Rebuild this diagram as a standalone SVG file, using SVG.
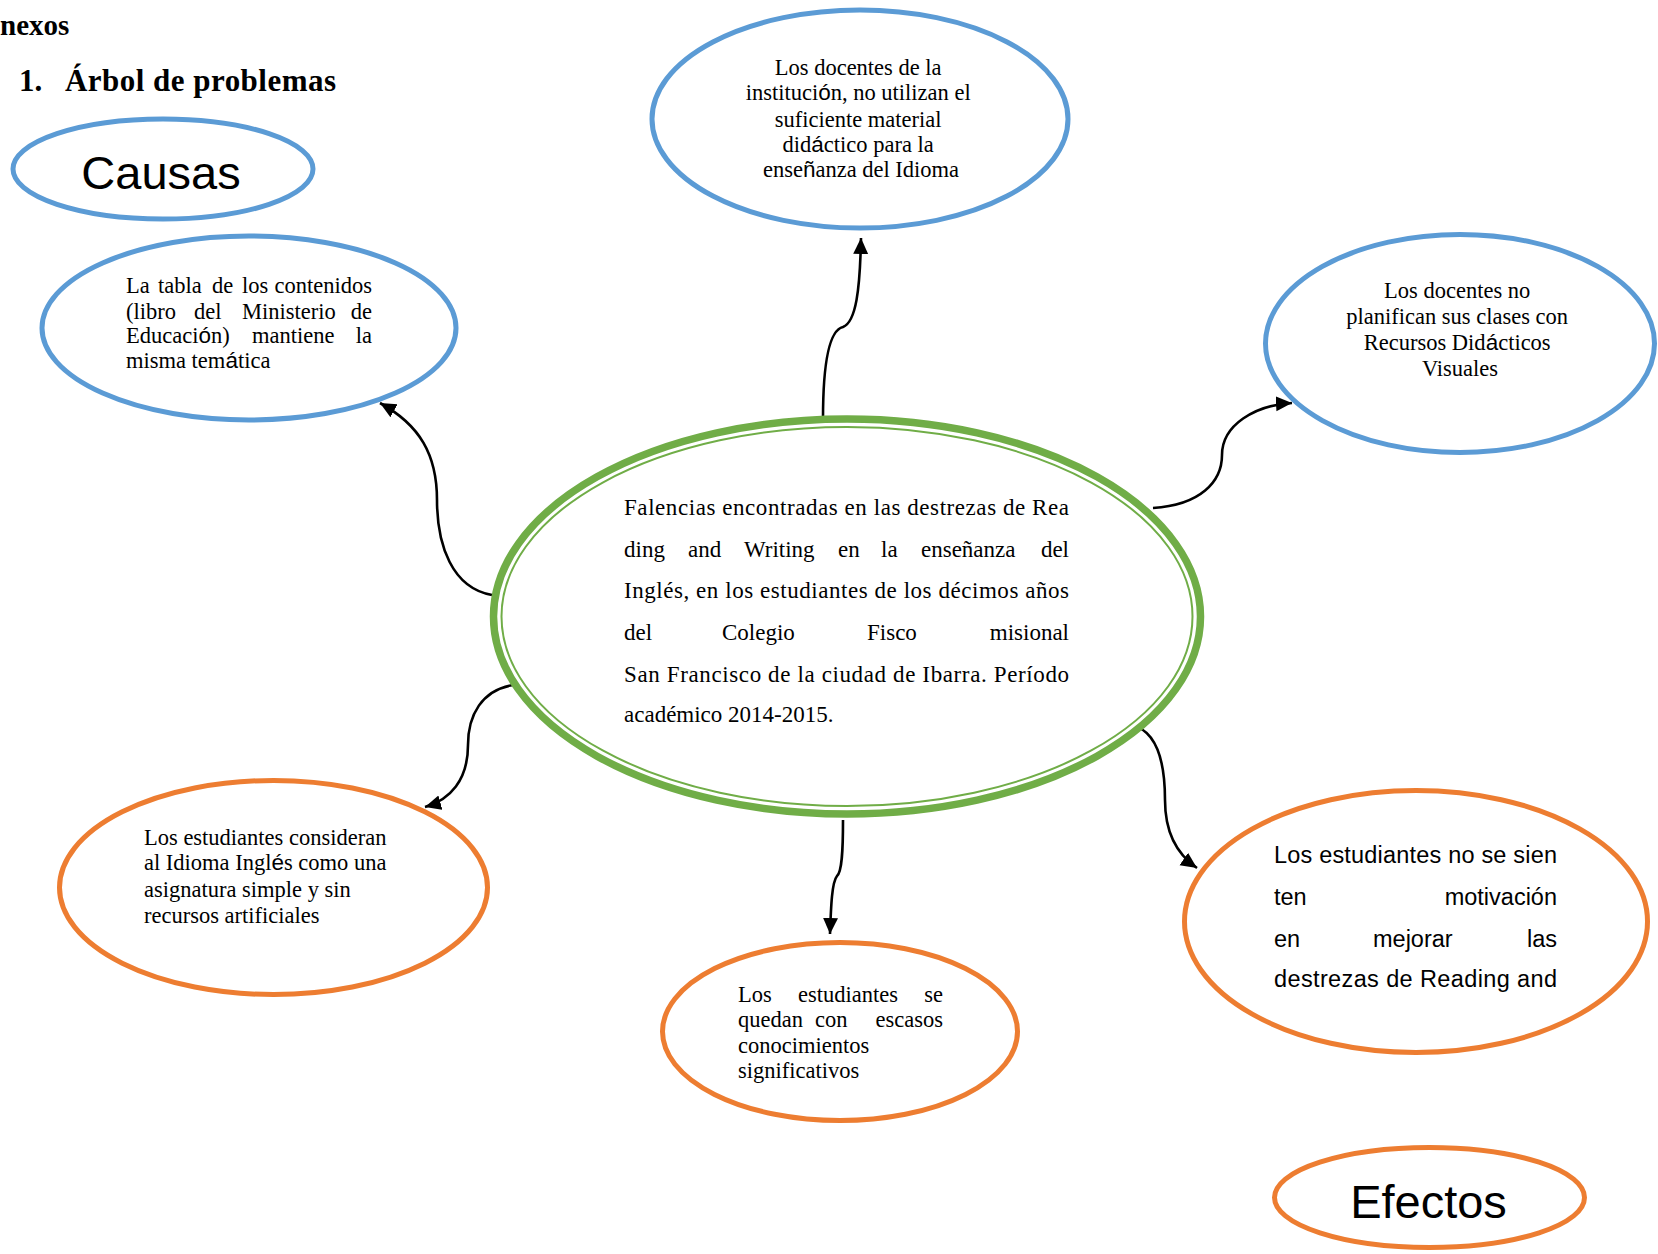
<svg xmlns="http://www.w3.org/2000/svg" width="1658" height="1254" viewBox="0 0 1658 1254">
<style>
.bg{fill:#ffffff}
.blue{fill:#ffffff;stroke:#5B9BD5;stroke-width:5}
.orange{fill:#ffffff;stroke:#ED7D31;stroke-width:5}
.gout{fill:#ffffff;stroke:#70AD47;stroke-width:7.5}
.gin{fill:none;stroke:#70AD47;stroke-width:2}
.serif{font-family:"Liberation Serif","Times New Roman",serif;fill:#000}
.sans{font-family:"Liberation Sans",Arial,sans-serif;fill:#000}
.s{font-family:"Liberation Sans",Arial,sans-serif}
.node{font-size:22.5px}
.main{font-size:23px}
.big{font-size:47px}
.head{font-family:"Liberation Serif","Times New Roman",serif;font-weight:bold;fill:#000}
.conn{fill:none;stroke:#000;stroke-width:2.6}
</style>
<defs>
<marker id="arr" markerUnits="userSpaceOnUse" markerWidth="18" markerHeight="16" refX="16" refY="7.5" orient="auto">
<path d="M0,0 L16,7.5 L0,15 z" fill="#000"/>
</marker>
</defs>
<rect class="bg" x="0" y="0" width="1658" height="1254"/>

<g id="heading">
<text class="head" x="0" y="35" font-size="29">nexos</text>
<text class="head" x="19" y="91" font-size="31">1.</text>
<text class="head" x="65" y="91" font-size="31" textLength="271" lengthAdjust="spacing">Árbol de problemas</text>
</g>

<g id="connectors">
<path class="conn" d="M823,419 C823,360 830,330 843,327 C856,322 860,290 861,238" marker-end="url(#arr)"/>
<path class="conn" d="M492,595 C452,588 437,545 437,500 C437,455 420,425 380,403" marker-end="url(#arr)"/>
<path class="conn" d="M513,685 C482,690 468,715 468,745 C468,780 450,800 425,807" marker-end="url(#arr)"/>
<path class="conn" d="M1153,508 C1200,505 1222,482 1222,455 C1222,425 1255,405 1292,403" marker-end="url(#arr)"/>
<path class="conn" d="M1132,725 C1160,732 1165,770 1165,800 C1165,835 1178,855 1197,868" marker-end="url(#arr)"/>
<path class="conn" d="M843,820 C843,850 842,872 837,876 C832,882 831,905 830,934" marker-end="url(#arr)"/>
</g>

<g id="causas">
<ellipse class="blue" cx="163" cy="169" rx="150" ry="50"/>
<text class="sans big" x="161" y="189" text-anchor="middle">Causas</text>
</g>

<g id="node-top">
<ellipse class="blue" cx="860" cy="119" rx="208" ry="109"/>
<text class="serif node" text-anchor="middle">
<tspan x="861" y="75">Los docentes de la</tspan>
<tspan x="861" y="100">instituci<tspan class="s">ó</tspan>n, no utilizan el</tspan>
<tspan x="861" y="127">suficiente material</tspan>
<tspan x="861" y="152">did<tspan class="s">á</tspan>ctico para la</tspan>
<tspan x="861" y="177">ense<tspan class="s">ñ</tspan>anza del Idioma</tspan>
</text>
</g>

<g id="node-left">
<ellipse class="blue" cx="249" cy="328" rx="207" ry="92"/>
<text class="serif node">
<tspan x="126" y="293">La</tspan><tspan x="158" y="293">tabla</tspan><tspan x="212" y="293">de</tspan><tspan x="242" y="293">los</tspan>
</text>
<text class="serif node" x="372" y="293" text-anchor="end">contenidos</text>
<text class="serif node"><tspan x="126" y="319">(libro</tspan><tspan x="194" y="319">del</tspan><tspan x="242" y="319">Ministerio</tspan></text>
<text class="serif node" x="372" y="319" text-anchor="end">de</text>
<text class="serif node"><tspan x="126" y="343">Educaci<tspan class="s">ó</tspan>n)</tspan><tspan x="252" y="343">mantiene</tspan></text>
<text class="serif node" x="372" y="343" text-anchor="end">la</text>
<text class="serif node" x="126" y="368">misma tem<tspan class="s">á</tspan>tica</text>
</g>

<g id="node-right">
<ellipse class="blue" cx="1460" cy="343.5" rx="194.5" ry="109"/>
<text class="serif node" text-anchor="middle">
<tspan x="1460" y="298">Los docentes no</tspan>
<tspan x="1460" y="324">planifican sus clases con</tspan>
<tspan x="1460" y="350">Recursos Did<tspan class="s">á</tspan>cticos</tspan>
<tspan x="1460" y="376">Visuales</tspan>
</text>
</g>

<g id="node-center">
<ellipse class="gout" cx="847" cy="616.5" rx="353.5" ry="197.5"/>
<ellipse class="gin" cx="847" cy="616.5" rx="345.5" ry="189.5"/>
<text class="serif main" x="624" y="515" textLength="445" lengthAdjust="spacing">Falencias encontradas en las destrezas de Rea</text>
<text class="serif main"><tspan x="624" y="557">ding</tspan><tspan x="688" y="557">and</tspan><tspan x="744" y="557">Writing</tspan><tspan x="838" y="557">en</tspan><tspan x="881" y="557">la</tspan><tspan x="921" y="557">enseñanza</tspan></text>
<text class="serif main" x="1069" y="557" text-anchor="end">del</text>
<text class="serif main" x="624" y="598" textLength="445" lengthAdjust="spacing">Inglés, en los estudiantes de los décimos años</text>
<text class="serif main"><tspan x="624" y="640">del</tspan><tspan x="722" y="640">Colegio</tspan><tspan x="867" y="640">Fisco</tspan></text>
<text class="serif main" x="1069" y="640" text-anchor="end">misional</text>
<text class="serif main" x="624" y="682" textLength="445" lengthAdjust="spacing">San Francisco de la ciudad de Ibarra. Período</text>
<text class="serif main" x="624" y="722">académico 2014-2015.</text>
</g>

<g id="node-bottom-left">
<ellipse class="orange" cx="273.5" cy="887.5" rx="214" ry="107"/>
<text class="serif node">
<tspan x="144" y="845">Los estudiantes consideran</tspan>
<tspan x="144" y="870">al Idioma Ingl<tspan class="s">é</tspan>s como una</tspan>
<tspan x="144" y="897">asignatura simple y sin</tspan>
<tspan x="144" y="923">recursos artificiales</tspan>
</text>
</g>

<g id="node-bottom-center">
<ellipse class="orange" cx="840" cy="1031.5" rx="177.5" ry="89"/>
<text class="serif node"><tspan x="738" y="1002">Los</tspan><tspan x="798" y="1002">estudiantes</tspan></text>
<text class="serif node" x="943" y="1002" text-anchor="end">se</text>
<text class="serif node"><tspan x="738" y="1027">quedan</tspan><tspan x="815" y="1027">con</tspan></text>
<text class="serif node" x="943" y="1027" text-anchor="end">escasos</text>
<text class="serif node" x="738" y="1053">conocimientos</text>
<text class="serif node" x="738" y="1078">significativos</text>
</g>

<g id="node-bottom-right">
<ellipse class="orange" cx="1416" cy="921.5" rx="231.5" ry="131"/>
<text class="sans" font-size="23.5" x="1274" y="863" textLength="283" lengthAdjust="spacing">Los estudiantes no se sien</text>
<text class="sans" font-size="23.5" x="1274" y="905">ten</text>
<text class="sans" font-size="23.5" x="1557" y="905" text-anchor="end">motivación</text>
<text class="sans" font-size="23.5" x="1274" y="947">en</text>
<text class="sans" font-size="23.5" x="1373" y="947">mejorar</text>
<text class="sans" font-size="23.5" x="1557" y="947" text-anchor="end">las</text>
<text class="sans" font-size="23.5" x="1274" y="987" textLength="283" lengthAdjust="spacing">destrezas de Reading and</text>
</g>

<g id="efectos">
<ellipse class="orange" cx="1429.5" cy="1197.5" rx="155" ry="50"/>
<text class="sans big" x="1428.5" y="1218" text-anchor="middle">Efectos</text>
</g>
</svg>
